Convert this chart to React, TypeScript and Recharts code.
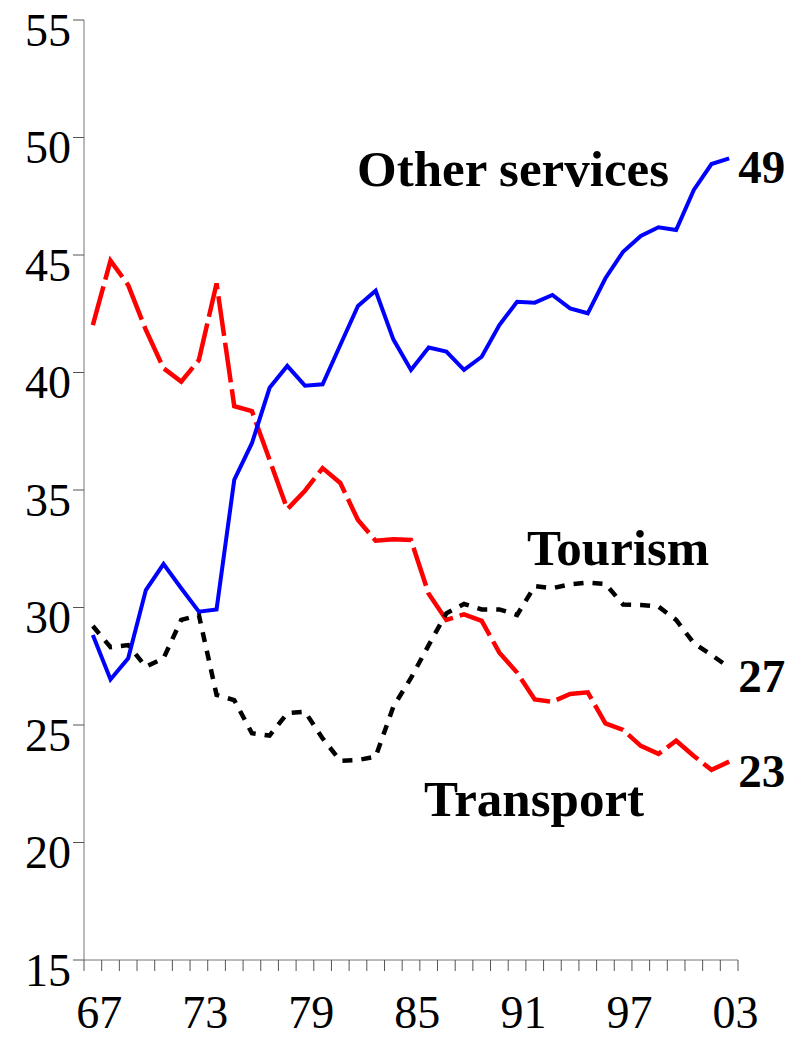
import { LineChart, Line, XAxis, YAxis, LabelList } from "recharts";

const years = [
  "67", "68", "69", "70", "71", "72", "73", "74", "75", "76", "77", "78", "79",
  "80", "81", "82", "83", "84", "85", "86", "87", "88", "89", "90", "91", "92",
  "93", "94", "95", "96", "97", "98", "99", "00", "01", "02", "03",
];

const otherServices = [
  28.83, 26.94, 27.84, 30.74, 31.85, 30.82, 29.82, 29.92, 35.43, 36.99, 39.35,
  40.28, 39.44, 39.5, 41.17, 42.83, 43.48, 41.41, 40.11, 41.06, 40.89, 40.11,
  40.67, 42.02, 43.01, 42.97, 43.3, 42.73, 42.52, 44.01, 45.14, 45.81, 46.18,
  46.06, 47.77, 48.87, 49.11,
];

const tourism = [
  29.21, 28.31, 28.4, 27.48, 27.84, 29.47, 29.68, 26.28, 26.06, 24.65, 24.55,
  25.5, 25.57, 24.43, 23.48, 23.51, 23.65, 25.78, 27.0, 28.4, 29.75, 30.15,
  29.92, 29.92, 29.68, 30.91, 30.82, 30.99, 31.06, 31.0, 30.13, 30.11, 30.04,
  29.47, 28.48, 27.98, 27.45,
];

const transport = [
  42.02, 44.76, 43.72, 41.81, 40.18, 39.61, 40.53, 43.79, 38.57, 38.36, 36.28,
  34.18, 34.97, 35.93, 35.3, 33.72, 32.84, 32.9, 32.87, 30.58, 29.47, 29.71,
  29.43, 28.08, 27.23, 26.09, 25.99, 26.32, 26.39, 25.07, 24.79, 24.11, 23.77,
  24.33, 23.68, 23.09, 23.44,
];

const endLabels = { other: "49", tourism: "27", transport: "23" };
const yTicks = [15, 20, 25, 30, 35, 40, 45, 50, 55];

const data = years.map((y, i) => ({
  i,
  year: y,
  other: otherServices[i],
  tourism: tourism[i],
  transport: transport[i],
}));

// tick marks sit on the year boundaries, labels every 6 years
const boundaries = Array.from({ length: years.length + 1 }, (_, k) => k - 0.5);

const serif = "'Liberation Serif', 'Times New Roman', serif";
const last = years.length - 1;

const XTick = (props: any) => {
  const { x, y, payload } = props;
  const k = Math.round(payload.value - 0.5);
  if (k < 0 || k % 6 !== 0) return null;
  return (
    <text x={x - 2.5} y={y + 55} textAnchor="middle" fontFamily={serif} fontSize={46} fill="#000">
      {years[k]}
    </text>
  );
};

const YTick = (props: any) => {
  const { x, y, payload } = props;
  return (
    <text x={x} y={y + 25.5} textAnchor="end" fontFamily={serif} fontSize={46} fill="#000">
      {payload.value}
    </text>
  );
};

const endLabel = (text: string) => (props: any) => {
  if (props.index !== last) return null;
  return (
    <text x={props.x + 9} y={props.y + 25} fontFamily={serif} fontWeight="bold" fontSize={47} fill="#000">
      {text}
    </text>
  );
};

export default function App() {
  return (
    <div style={{ position: "absolute", left: 0, top: 0, width: 802, height: 1038, background: "#fff" }}>
      <LineChart
        width={802}
        height={1038}
        data={data}
        margin={{ top: 20, right: 64, left: 0, bottom: 0 }}
      >
        <XAxis
          dataKey="i"
          type="number"
          domain={[-0.5, last + 0.5]}
          ticks={boundaries}
          interval={0}
          height={78}
          tickSize={11}
          stroke="#777"
          tickLine={{ stroke: "#555" }}
          tick={<XTick />}
        />
        <YAxis
          domain={[15, 55]}
          ticks={yTicks}
          interval={0}
          width={84}
          tickSize={11}
          stroke="#777"
          tickLine={{ stroke: "#555" }}
          tick={<YTick />}
        />
        <Line
          type="linear"
          dataKey="transport"
          stroke="#ff0000"
          strokeWidth={4.5}
          strokeDasharray="40 7"
          dot={false}
          isAnimationActive={false}
        >
          <LabelList dataKey="transport" content={endLabel(endLabels.transport)} />
        </Line>
        <Line
          type="linear"
          dataKey="tourism"
          stroke="#000000"
          strokeWidth={4.5}
          strokeDasharray="10 9"
          dot={false}
          isAnimationActive={false}
        >
          <LabelList dataKey="tourism" content={endLabel(endLabels.tourism)} />
        </Line>
        <Line
          type="linear"
          dataKey="other"
          stroke="#0000ff"
          strokeWidth={4}
          dot={false}
          isAnimationActive={false}
        >
          <LabelList dataKey="other" content={endLabel(endLabels.other)} />
        </Line>
      </LineChart>
      <svg
        width={802}
        height={1038}
        style={{ position: "absolute", left: 0, top: 0, pointerEvents: "none" }}
      >
        <g fontFamily={serif} fontWeight="bold" fontSize={51} fill="#000">
          <text x={357} y={186}>Other services</text>
          <text x={527} y={565}>Tourism</text>
          <text x={424} y={816}>Transport</text>
        </g>
      </svg>
    </div>
  );
}
